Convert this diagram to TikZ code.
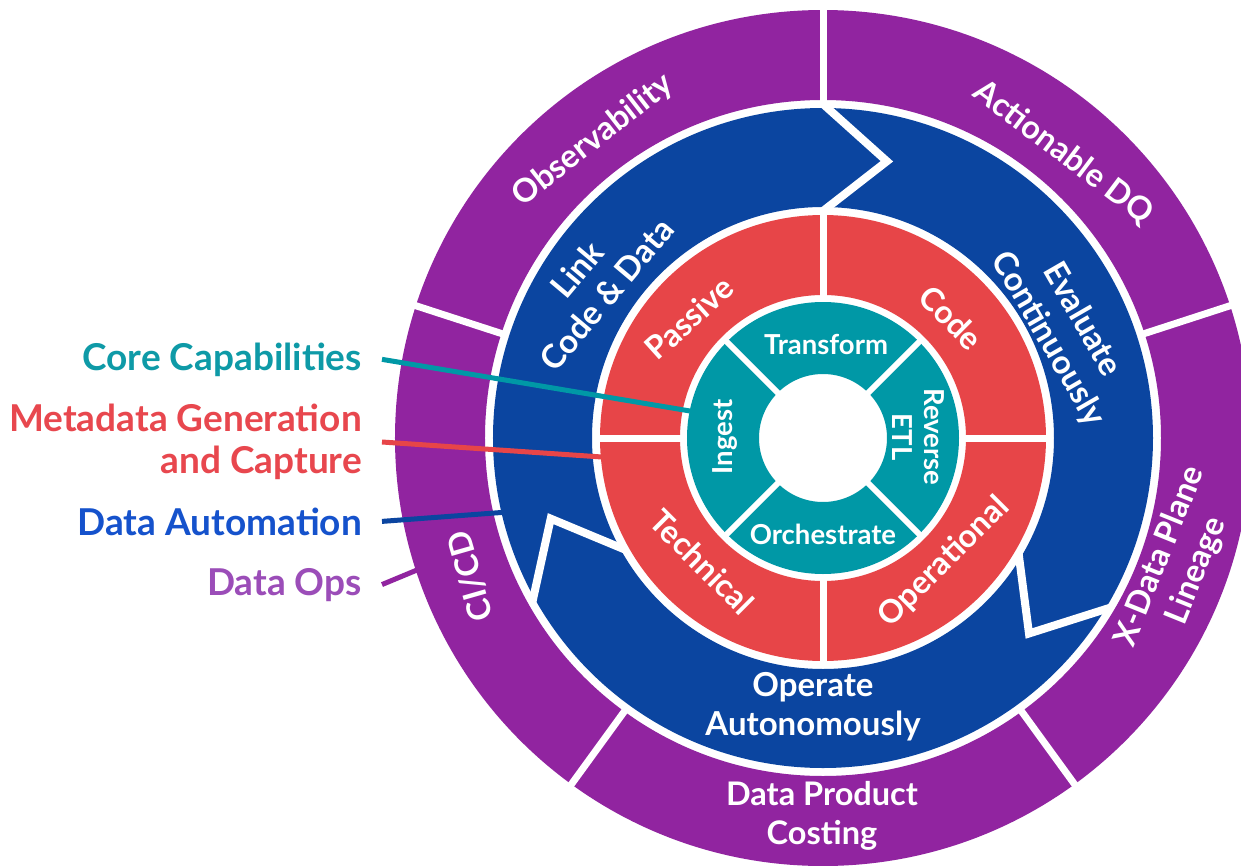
\documentclass[tikz,border=0pt]{standalone}
\usepackage{fontspec}
\setmainfont{Lato}
\definecolor{cpurple}{RGB}{145,36,160}
\definecolor{cblue}{RGB}{11,69,160}
\definecolor{cred}{RGB}{231,69,72}
\definecolor{cteal}{RGB}{0,152,166}
\definecolor{lteal}{RGB}{14,154,167}
\definecolor{lred}{RGB}{232,71,78}
\definecolor{lblue}{RGB}{21,82,204}
\definecolor{lpurple}{RGB}{155,77,184}
\begin{document}
\begin{tikzpicture}[x=1pt,y=1pt,
  gapline/.style={white, line width=7pt},
  gapthin/.style={white, line width=6pt},
  chev/.style={white, line width=8pt, line join=miter},
  ringlbl/.style={text=white, align=center, inner sep=0pt},
  plbl/.style={ringlbl, font=\bfseries\fontsize{32.5}{39}\selectfont},
  blbl/.style={ringlbl, font=\bfseries\fontsize{33}{39}\selectfont},
  rlbl/.style={ringlbl, font=\bfseries\fontsize{32}{38}\selectfont},
  tlbl/.style={ringlbl, font=\bfseries\fontsize{27.5}{32}\selectfont},
  lg/.style={align=right, inner sep=0pt, font=\bfseries\fontsize{37}{42}\selectfont},
  conn/.style={line width=5pt}
]
\useasboundingbox (-823,-427) rectangle (418,438);
\fill[white] (-823,-427) rectangle (418,438);
% rings
\fill[cpurple, even odd rule] (0,0) circle[radius=428] circle[radius=338];
\fill[cblue, even odd rule] (0,0) circle[radius=330] circle[radius=231];
\fill[cred, even odd rule] (0,0) circle[radius=223] circle[radius=143];
\fill[cteal, even odd rule] (0,0) circle[radius=136] circle[radius=64];
% dividers
\foreach \a in {90,18,-54,-126,162} \draw[gapline] (\a:334) -- (\a:432);
\foreach \a in {0,90,180,270} \draw[gapline] (\a:139) -- (\a:227);
\foreach \a in {45,135,225,315} \draw[gapthin] (\a:60) -- (\a:140);
% chevrons
\foreach \a in {90,-30.5,209.5} \draw[chev] (\a:334) -- (\a-13:284) -- (\a:227);
% purple labels
\node[plbl, rotate=38] (obs) at (127.7:376) {Observability};
\node[plbl, rotate=-37] (adq) at (49.9:373) {Actionable DQ};
\node[plbl, rotate=68] (xdp) at (-19.5:377) {X-Data Plane\\Lineage};
\node[plbl] (dpc) at (-1,-378) {Data Product\\Costing};
\node[plbl, rotate=106] (cicd) at (201.4:379) {CI/CD};
% blue labels
\node[blbl, rotate=50] (link) at (146:279) {Link\\Code \& Data};
\node[blbl, rotate=-60] (eval) at (24.2:265) {Evaluate\\Continuously};
\node[blbl] (oper) at (-10,-269) {Operate\\Autonomously};
% red labels
\node[rlbl, rotate=42] (pas) at (-134,120) {Passive};
\node[rlbl, rotate=-45] (code) at (128,120) {Code};
\node[rlbl, rotate=-45] (tech) at (-121,-124) {Technical};
\node[rlbl, rotate=45] (opl) at (121,-124) {Operational};
% teal labels
\node[tlbl] (trf) at (3,94) {Transform};
\node[tlbl] (orc) at (0,-96) {Orchestrate};
\node[tlbl, rotate=90] (ing) at (-98,1) {Ingest};
\node[tlbl, rotate=-90] (retl) at (95,1) {Reverse\\ETL};
% legend
\node[lg, text=lteal, anchor=base east] (core) at (-461,68) {Core Capabilities};
\node[lg, text=lred, anchor=east] (meta) at (-461,-4) {Metadata Generation\\and Capture};
\node[lg, text=lblue, anchor=base east] (auto) at (-461,-97) {Data Automation};
\node[lg, text=lpurple, anchor=base east] (ops) at (-461,-157) {Data Ops};
% connector ends
\coordinate (coreend) at (-133,27);
\coordinate (metaend) at (-221,-19);
\coordinate (autoend) at (-315,-74);
\coordinate (opsend) at (-406,-132);
\draw[conn, cteal] ([xshift=20pt]core.east) -- (coreend);
\draw[conn, cred] ([xshift=20pt]meta.east) -- (metaend);
\draw[conn, cblue] ([xshift=20pt]auto.east) -- (autoend);
\draw[conn, cpurple] ([xshift=20pt]ops.east) -- (opsend);
\end{tikzpicture}
\end{document}
